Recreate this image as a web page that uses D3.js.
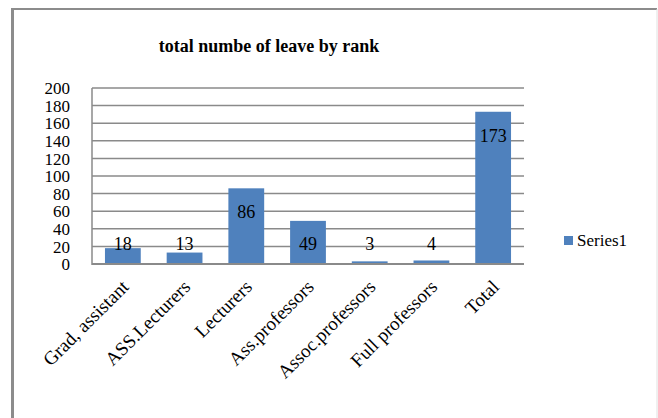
<!DOCTYPE html>
<html>
<head>
<meta charset="utf-8">
<script src="https://cdn.jsdelivr.net/npm/d3@7"></script>
<style>
  html, body { margin: 0; padding: 0; background: #fff; }
  svg { display: block; }
  text { font-family: "Liberation Serif", "Times New Roman", serif; fill: #000; }
</style>
</head>
<body>
<svg id="chart" width="658" height="418"></svg>
<script>
// Leave counts per academic rank
const categories = ["Grad, assistant", "ASS.Lecturers", "Lecturers", "Ass.professors",
                    "Assoc.professors", "Full professors", "Total"];
const series1 = [18, 13, 86, 49, 3, 4, 173];
const yTicks = [0, 20, 40, 60, 80, 100, 120, 140, 160, 180, 200];
const seriesName = "Series1";
const title = "total numbe of leave by rank";

const FONT = '"Liberation Serif", "Times New Roman", serif';
const svg = d3.select("#chart");
const W = 658, H = 418;
const plot = { left: 92, right: 524, top: 88, bottom: 264 };

// Chart frame
svg.append("rect").attr("x", 0).attr("y", 0).attr("width", W).attr("height", H).attr("fill", "#fff");
svg.append("line").attr("x1", 12.5).attr("x2", 12.5).attr("y1", 8).attr("y2", H)
  .attr("stroke", "#8c8c8c").attr("stroke-width", 3);
svg.append("line").attr("x1", 11).attr("x2", 657).attr("y1", 9).attr("y2", 9)
  .attr("stroke", "#8c8c8c").attr("stroke-width", 2);
svg.append("line").attr("x1", 657).attr("x2", 657).attr("y1", 9).attr("y2", H)
  .attr("stroke", "#e0e0e0").attr("stroke-width", 1);

// Scales
const x = d3.scaleBand().domain(categories).range([plot.left, plot.right])
  .paddingInner(0.42).paddingOuter(0.21);
const y = d3.scaleLinear().domain([0, 200]).range([plot.bottom, plot.top]);

// Gridlines
svg.append("g").selectAll("line").data(yTicks.filter(d => d > 0)).join("line")
  .attr("x1", plot.left).attr("x2", plot.right)
  .attr("y1", d => y(d)).attr("y2", d => y(d))
  .attr("stroke", "#8a8a8a").attr("stroke-width", 1.5);

// Y axis labels
const yAxis = d3.axisLeft(y).tickValues(yTicks).tickSize(0).tickPadding(22);
const gy = svg.append("g").attr("transform", `translate(${plot.left},0)`).call(yAxis)
  .attr("font-family", FONT).attr("font-size", 17);
gy.select(".domain").remove();
gy.selectAll("text").attr("fill", "#000").attr("dy", "0.34em");

// Bars
svg.append("g").selectAll("rect").data(series1).join("rect")
  .attr("x", (d, i) => x(categories[i]))
  .attr("width", x.bandwidth())
  .attr("y", d => y(d))
  .attr("height", d => y(0) - y(d))
  .attr("fill", "#4f81bd");

// Axis lines
svg.append("line").attr("x1", plot.left).attr("x2", plot.left)
  .attr("y1", plot.top).attr("y2", plot.bottom + 1)
  .attr("stroke", "#8a8a8a").attr("stroke-width", 1.5);
svg.append("line").attr("x1", plot.left).attr("x2", plot.right)
  .attr("y1", y(0)).attr("y2", y(0))
  .attr("stroke", "#8a8a8a").attr("stroke-width", 2);

// Data labels
svg.append("g").selectAll("text").data(series1).join("text")
  .attr("x", (d, i) => x(categories[i]) + x.bandwidth() / 2)
  .attr("y", d => Math.min(y(d) + 30, y(0) - 14))
  .attr("text-anchor", "middle")
  .attr("font-family", FONT).attr("font-size", 18)
  .text(d => d);

// Category labels, rotated
svg.append("g").selectAll("text").data(categories).join("text")
  .attr("transform", d => `translate(${x(d) + x.bandwidth() / 2 + 7},${y(0) + 24}) rotate(-45)`)
  .attr("text-anchor", "end")
  .attr("font-family", FONT).attr("font-size", 19)
  .text(d => d);

// Title
svg.append("text").attr("x", 269).attr("y", 52).attr("text-anchor", "middle")
  .attr("font-family", FONT).attr("font-size", 18).attr("font-weight", "bold").text(title);

// Legend
const lg = svg.append("g").attr("transform", "translate(564,236)");
lg.append("rect").attr("width", 9).attr("height", 9).attr("fill", "#4f81bd");
lg.append("text").attr("x", 13).attr("y", 10)
  .attr("font-family", FONT).attr("font-size", 17).text(seriesName);
</script>
</body>
</html>
